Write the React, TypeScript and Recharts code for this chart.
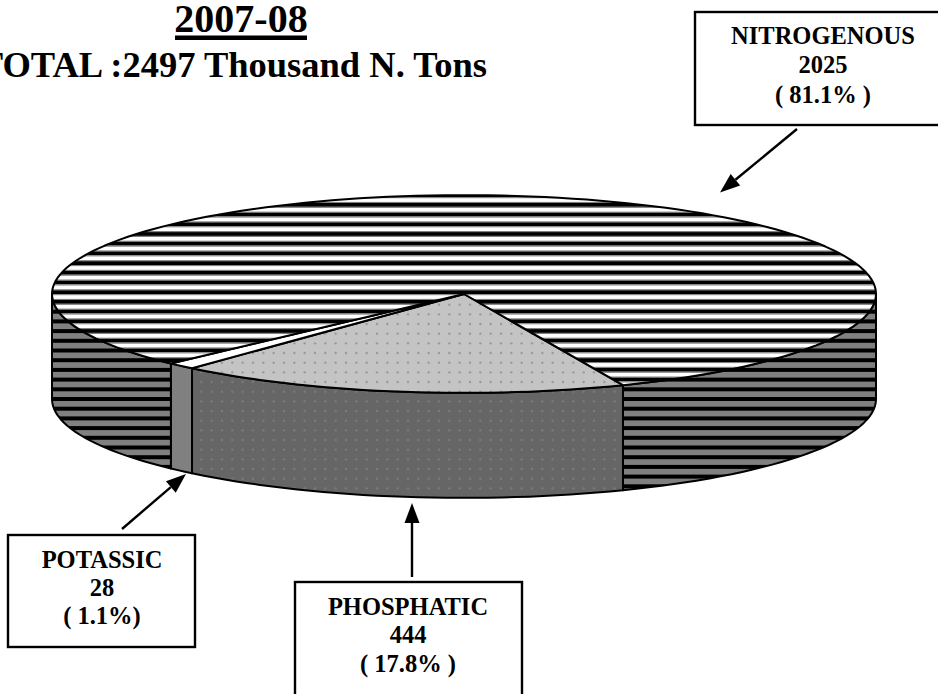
import React from 'react';
import { PieChart, Pie } from 'recharts';

const categories = ['PHOSPHATIC', 'POTASSIC', 'NITROGENOUS'];
const values = [444, 28, 2025];
const percentLabels = ['( 17.8% )', '( 1.1%)', '( 81.1% )'];
const topFills = ['url(#dotsLight)', '#ffffff', 'url(#stripesTop)'];
const wallFills = ['url(#dotsDark)', '#808080', 'url(#stripesWall)'];
const titleYear = '2007-08';
const titleTotal = 'TOTAL :2497 Thousand N. Tons';

const pieData = categories.map((name, i) => ({
  name,
  value: values[i],
  top: topFills[i],
  wall: wallFills[i],
}));

const SQUASH = 0.24;
const DEPTH = 105;
const RAD = Math.PI / 180;
const STRIPE_PERIOD = 9.7;
const STRIPE_COUNT = Array.from({ length: 10 }, (_, i) => i);
const DOT_GRID = [0, 1, 2];

const point = (cx: number, cy: number, rx: number, ry: number, screenDeg: number, dy = 0) => ({
  x: cx + rx * Math.cos(screenDeg * RAD),
  y: cy + ry * Math.sin(screenDeg * RAD) + dy,
});

const arc = (cx: number, cy: number, rx: number, ry: number, a: number, b: number, dy = 0) => {
  let d = '';
  const n = Math.max(2, Math.ceil(Math.abs(b - a) / 2));
  for (let i = 0; i <= n; i++) {
    const p = point(cx, cy, rx, ry, a + ((b - a) * i) / n, dy);
    d += `${i === 0 ? 'M' : 'L'}${p.x.toFixed(2)},${p.y.toFixed(2)} `;
  }
  return d;
};

const wallPath = (cx: number, cy: number, rx: number, ry: number, a: number, b: number) => {
  const top = arc(cx, cy, rx, ry, a, b);
  const bottom = arc(cx, cy, rx, ry, b, a, DEPTH).replace('M', 'L');
  return `${top}${bottom}Z`;
};

const SliceShape = (props: any) => {
  const { cx, cy, outerRadius, startAngle, endAngle, payload } = props;
  const rx = outerRadius;
  const ry = outerRadius * SQUASH;
  // Recharts angles are counter-clockwise; on-screen ones run clockwise.
  const a = Math.min(-startAngle, -endAngle);
  const b = Math.max(-startAngle, -endAngle);
  const walls: React.ReactNode[] = [];
  [0, 360].forEach((offset) => {
    const from = Math.max(a, offset);
    const to = Math.min(b, offset + 180);
    if (to > from) {
      walls.push(
        <path
          key={offset}
          d={wallPath(cx, cy, rx, ry, from, to)}
          fill={payload.wall}
          stroke="#000"
          strokeWidth={2}
          strokeLinejoin="round"
        />,
      );
    }
  });
  const topD = `M${cx},${cy} ${arc(cx, cy, rx, ry, a, b).replace('M', 'L')}Z`;
  return (
    <g>
      {walls}
      <path d={topD} fill={payload.top} stroke="#000" strokeWidth={2} strokeLinejoin="round" />
    </g>
  );
};

const textStyle = { fontFamily: '"Liberation Serif", serif', fontWeight: 700, fill: '#000' };

const Callout = ({ x, y, w, h, cx, baselines, lines }: any) => (
  <g>
    <rect x={x} y={y} width={w} height={h} fill="#fff" stroke="#000" strokeWidth={2.4} />
    {lines.map((t: string, i: number) => (
      <text key={i} x={cx} y={baselines[i]} textAnchor="middle" fontSize={24.5} style={textStyle}>
        {t}
      </text>
    ))}
  </g>
);

const Arrow = ({ x1, y1, x2, y2 }: any) => {
  const ang = Math.atan2(y2 - y1, x2 - x1);
  const L = 20;
  const W = 7.5;
  const bx = x2 - L * Math.cos(ang);
  const by = y2 - L * Math.sin(ang);
  const nx = -Math.sin(ang);
  const ny = Math.cos(ang);
  return (
    <g>
      <line x1={x1} y1={y1} x2={bx} y2={by} stroke="#000" strokeWidth={2.4} />
      <polygon
        points={`${x2},${y2} ${bx + nx * W},${by + ny * W} ${bx - nx * W},${by - ny * W}`}
        fill="#000"
      />
    </g>
  );
};

export default function App() {
  return (
    <div style={{ position: 'absolute', left: 0, top: 0, width: 938, height: 694, overflow: 'hidden', background: '#fff' }}>
      <PieChart width={938} height={694} margin={{ top: 0, right: 0, bottom: 0, left: 0 }}>
        <defs>
          <pattern id="stripesTop" patternUnits="userSpaceOnUse" x="0" y="203" width="10" height="97">
            <rect width="10" height="97" fill="#fff" />
            {STRIPE_COUNT.map((k) => (
              <g key={k}>
                <rect y={k * STRIPE_PERIOD} width="10" height="3.8" fill="#000" />
                <rect y={k * STRIPE_PERIOD + 3.8} width="10" height="1.1" fill="#808080" />
                <rect y={k * STRIPE_PERIOD + 8.6} width="10" height="1.1" fill="#808080" />
              </g>
            ))}
          </pattern>
          <pattern id="stripesWall" patternUnits="userSpaceOnUse" x="0" y="203" width="10" height="97">
            <rect width="10" height="97" fill="#808080" />
            {STRIPE_COUNT.map((k) => (
              <rect key={k} y={k * STRIPE_PERIOD} width="10" height="4" fill="#000" />
            ))}
          </pattern>
          <pattern id="dotsLight" patternUnits="userSpaceOnUse" x="0" y="0" width="31" height="29">
            <rect width="31" height="29" fill="#c4c4c4" />
            {DOT_GRID.flatMap((i) =>
              DOT_GRID.map((j) => (
                <circle key={`${i}-${j}`} cx={5 + (i * 31) / 3} cy={5 + (j * 29) / 3} r="1.2" fill="#9a9a9a" />
              )),
            )}
          </pattern>
          <pattern id="dotsDark" patternUnits="userSpaceOnUse" x="0" y="0" width="31" height="29">
            <rect width="31" height="29" fill="#666666" />
            {DOT_GRID.flatMap((i) =>
              DOT_GRID.map((j) => (
                <circle key={`${i}-${j}`} cx={5 + (i * 31) / 3} cy={5 + (j * 29) / 3} r="1.2" fill="#7a7a7a" />
              )),
            )}
          </pattern>
        </defs>

        <Pie
          data={pieData}
          dataKey="value"
          nameKey="name"
          cx={464}
          cy={294}
          innerRadius={0}
          outerRadius={412}
          startAngle={-67.3}
          endAngle={-427.3}
          paddingAngle={0}
          stroke="none"
          isAnimationActive={false}
          shape={SliceShape}
        />

        <text x={241} y={31.5} textAnchor="middle" fontSize={40} style={textStyle}>
          {titleYear}
        </text>
        <rect x={175} y={35.5} width={132} height={4.5} fill="#000" />
        <text x={487} y={76.5} textAnchor="end" fontSize={36.5} style={textStyle}>
          {titleTotal}
        </text>

        <Arrow x1={797} y1={129} x2={720} y2={192.5} />
        <Arrow x1={122} y1={529} x2={186} y2={474} />
        <Arrow x1={412} y1={577} x2={412} y2={503} />

        <Callout
          x={695}
          y={12}
          w={270}
          h={113}
          cx={823}
          baselines={[44, 73, 103]}
          lines={[categories[2], String(values[2]), percentLabels[2]]}
        />
        <Callout
          x={8}
          y={535}
          w={187}
          h={112}
          cx={102}
          baselines={[568, 596, 624]}
          lines={[categories[1], String(values[1]), percentLabels[1]]}
        />
        <Callout
          x={295}
          y={582}
          w={227}
          h={140}
          cx={408}
          baselines={[615, 643, 672]}
          lines={[categories[0], String(values[0]), percentLabels[0]]}
        />
      </PieChart>
    </div>
  );
}
